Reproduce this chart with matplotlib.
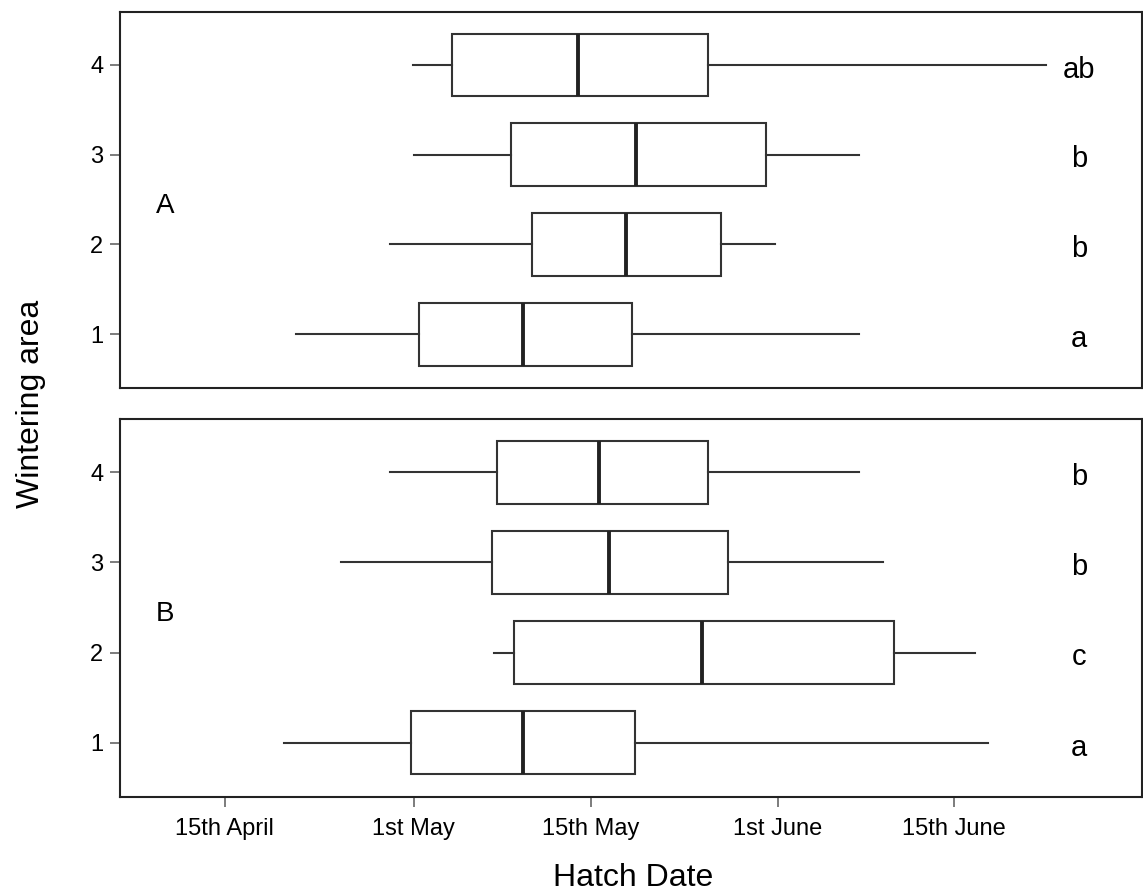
import matplotlib
matplotlib.use("Agg")
import matplotlib.pyplot as plt

plt.rcParams["font.family"] = ["Liberation Sans", "DejaVu Sans"]

# hatch dates as day of year
areas = [1, 2, 3, 4]

a_low = [111.0, 118.9, 120.9, 120.8]
a_q1 = [121.3, 130.8, 129.1, 124.1]
a_med = [130.1, 138.7, 139.6, 134.7]
a_q3 = [139.2, 146.7, 150.5, 145.6]
a_high = [158.3, 151.3, 158.3, 174.0]
a_letters = ["a", "b", "b", "ab"]

b_low = [110.0, 127.6, 114.8, 118.9]
b_q1 = [120.7, 129.3, 127.5, 127.9]
b_med = [130.1, 145.1, 137.3, 136.5]
b_q3 = [139.5, 161.3, 147.3, 145.6]
b_high = [169.2, 168.1, 160.3, 158.3]
b_letters = ["a", "c", "b", "b"]

tick_days = [105, 120.9, 135.8, 151.5, 166.3]
tick_labels = ["15th April", "1st May", "15th May", "1st June", "15th June"]

line_col = "#333333"


def draw_panel(ax, low, q1, med, q3, high, letters, tag):
    stats = []
    for i in range(len(areas)):
        stats.append({"whislo": low[i], "q1": q1[i], "med": med[i],
                      "q3": q3[i], "whishi": high[i]})
    ax.bxp(stats, positions=areas, vert=False, widths=0.7,
           showfliers=False, showcaps=False, patch_artist=True,
           boxprops=dict(facecolor="white", edgecolor=line_col, linewidth=1.5),
           whiskerprops=dict(color=line_col, linewidth=1.5),
           medianprops=dict(color="#222222", linewidth=2.8))
    for y, lab in zip(areas, letters):
        ax.text(176.8, y - 0.14, lab, fontsize=21, ha="center", va="baseline")
    ax.text(100, 2.35, tag, fontsize=20, ha="center", va="baseline")
    ax.set_xlim(96.2, 182.1)
    ax.set_ylim(0.4, 4.59)
    ax.set_yticks(areas)
    ax.set_yticklabels([str(a) for a in areas])
    ax.tick_params(axis="y", length=7, width=1.2, color="#666666",
                   labelsize=17, pad=5)
    for sp in ax.spines.values():
        sp.set_linewidth(1.5)
        sp.set_color("#222222")


fig = plt.figure(figsize=(11.43, 8.93), dpi=100)
ax1 = fig.add_axes([0.105, 0.5655, 0.894, 0.421])
ax2 = fig.add_axes([0.105, 0.1075, 0.894, 0.4233])

draw_panel(ax1, a_low, a_q1, a_med, a_q3, a_high, a_letters, "A")
draw_panel(ax2, b_low, b_q1, b_med, b_q3, b_high, b_letters, "B")

ax1.set_xticks([])
ax2.set_xticks(tick_days)
ax2.set_xticklabels(tick_labels)
ax2.tick_params(axis="x", length=7, width=1.2, color="#666666",
                labelsize=17, pad=8)

fig.text(0.027, 0.548, "Wintering area", rotation=90, fontsize=23,
         ha="center", va="center")
fig.text(0.554, 0.017, "Hatch Date", fontsize=23, ha="center", va="center")

fig.savefig("out.png", dpi=100)
